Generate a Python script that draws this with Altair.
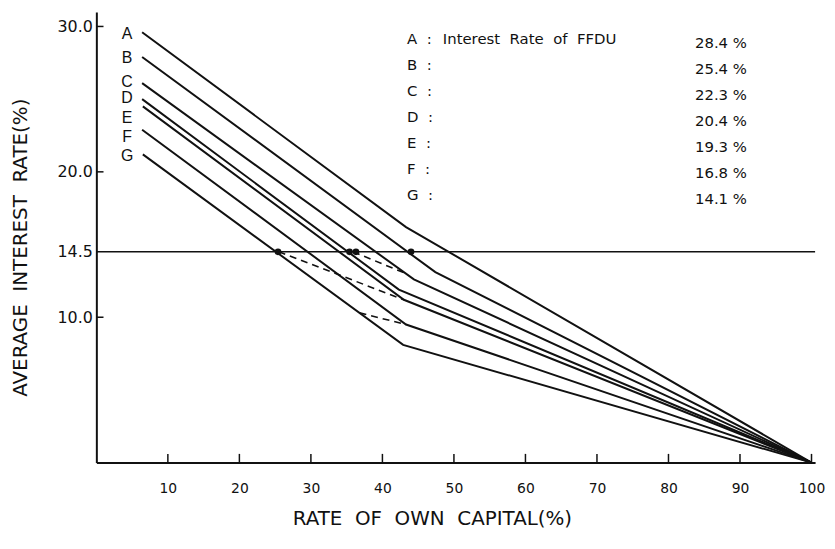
import altair as alt
import pandas as pd

# ---- data ----
series = ["A", "B", "C", "D", "E", "F", "G"]
ffdu_rate = ["28.4 %", "25.4 %", "22.3 %", "20.4 %", "19.3 %", "16.8 %", "14.1 %"]
descriptions = ["Interest Rate of FFDU", "", "", "", "", "", ""]

start_x = [6.4, 6.4, 6.4, 6.4, 6.5, 6.4, 6.5]
start_y = [29.6, 27.9, 26.1, 25.0, 24.5, 22.9, 21.2]
kink_x = [43.3, 47.4, 44.4, 42.3, 43.0, 43.3, 42.9]
kink_y = [16.2, 13.1, 12.6, 11.9, 11.2, 9.5, 8.1]
end_x = [100, 100, 100, 100, 100, 100, 100]
end_y = [0, 0, 0, 0, 0, 0, 0]

reference_rate = [14.5]
dot_x = [25.4, 35.4, 36.3, 44.0]
dot_y = [14.5, 14.5, 14.5, 14.5]

dash_id = ["d1", "d1", "d1", "d2", "d2", "d3", "d3"]
dash_x = [25.5, 34.0, 43.0, 35.9, 43.3, 36.8, 43.3]
dash_y = [14.5, 12.9, 11.2, 14.5, 13.0, 10.3, 9.5]

x_tick_values = [10, 20, 30, 40, 50, 60, 70, 80, 90, 100]
y_tick_values = [10.0, 14.5, 20.0, 30.0]
y_inner_ticks = [10.0, 20.0, 30.0]

# label layout nudges (data units) for the A..G letters at line starts
label_nudge = [-0.1, -0.1, 0.1, 0.1, -0.8, -0.5, -0.1]

NB = "\u00a0"


def spaced(text, n=2):
    return (NB * (n - 1) + " ").join(text.split(" "))


# ---- tables built from the arrays ----
rows = []
for i, s in enumerate(series):
    rows.append({"s": s, "o": 0, "x": start_x[i], "y": start_y[i]})
    rows.append({"s": s, "o": 1, "x": kink_x[i], "y": kink_y[i]})
    rows.append({"s": s, "o": 2, "x": end_x[i], "y": end_y[i]})
lines_df = pd.DataFrame(rows)

dash_df = pd.DataFrame({"id": dash_id, "x": dash_x, "y": dash_y})
dash_df["o"] = range(len(dash_df))
dots_df = pd.DataFrame({"x": dot_x, "y": dot_y})
ref_df = pd.DataFrame({"y": reference_rate})
xt_df = pd.DataFrame({"t": x_tick_values})
yt_df = pd.DataFrame({"t": y_inner_ticks})
lab_df = pd.DataFrame({"s": series, "y": [a + b for a, b in zip(start_y, label_nudge)]})
leg_df = pd.DataFrame({"s": [s + NB + " :" for s in series],
                       "d": [spaced(d) for d in descriptions],
                       "v": ffdu_rate, "row": list(range(len(series)))})

FONT = "DejaVu Sans"
xs = alt.Scale(domain=[0, 100.5], nice=False, zero=False)
ys = alt.Scale(domain=[0, 31], nice=False, zero=False)

X = alt.X("x:Q", scale=xs, axis=alt.Axis(
    values=x_tick_values, format="d", title=spaced("RATE OF OWN CAPITAL(%)"),
    labelFont=FONT, labelFontSize=14, labelPadding=19, labelFlush=False, labelOverlap=False,
    ticks=False, grid=False, domainColor="#111", domainWidth=2, labelColor="#111",
    titleFont=FONT, titleFontSize=20, titleFontWeight="normal", titleColor="#111",
    titleX=338, titleY=56, titleAlign="center", titleBaseline="middle"))
Y = alt.Y("y:Q", scale=ys, axis=alt.Axis(
    values=y_tick_values, format=".1f", title=spaced("AVERAGE INTEREST RATE(%)"),
    labelFont=FONT, labelFontSize=16, labelPadding=4, labelFlush=False, labelOverlap=False,
    ticks=False, grid=False, domainColor="#111", domainWidth=2, labelColor="#111",
    titleFont=FONT, titleFontSize=20, titleFontWeight="normal", titleColor="#111",
    titleX=-76, titleY=237, titleAngle=270, titleAlign="center", titleBaseline="middle"))

lines = alt.Chart(lines_df).mark_line(color="#111", strokeWidth=2).encode(
    x=X, y=Y, detail="s:N", order="o:Q")

ref = alt.Chart(ref_df).mark_rule(color="#111", strokeWidth=1.5).encode(
    y=alt.Y("y:Q", scale=ys))

dashes = alt.Chart(dash_df).mark_line(color="#111", strokeWidth=1.6, strokeDash=[7, 5]).encode(
    x=alt.X("x:Q", scale=xs), y=alt.Y("y:Q", scale=ys), detail="id:N", order="o:Q")

dots = alt.Chart(dots_df).mark_circle(color="#111", size=45, opacity=1).encode(
    x=alt.X("x:Q", scale=xs), y=alt.Y("y:Q", scale=ys))

xticks = alt.Chart(xt_df).mark_rule(color="#111", strokeWidth=1.5).encode(
    x=alt.X("t:Q", scale=xs), y=alt.datum(0, scale=ys), y2=alt.datum(0.6))

yticks = alt.Chart(yt_df).mark_rule(color="#111", strokeWidth=1.5).encode(
    y=alt.Y("t:Q", scale=ys), x=alt.datum(0, scale=xs), x2=alt.datum(1.0))

labels = alt.Chart(lab_df).mark_text(font="Liberation Sans", fontSize=16, color="#111",
                                     align="center", baseline="middle").encode(
    x=alt.datum(4.3, scale=xs), y=alt.Y("y:Q", scale=ys), text="s:N")

leg_base = alt.Chart(leg_df).transform_calculate(
    py="27 + 26.3 * datum.row", pv="31 + 26.2 * datum.row")
leg_letters = leg_base.mark_text(font=FONT, fontSize=15, color="#111", align="left",
                                 baseline="middle").encode(
    x=alt.value(313), y=alt.Y("py:Q", scale=None), text="s:N")
leg_desc = leg_base.mark_text(font=FONT, fontSize=15, color="#111", align="left",
                              baseline="middle").encode(
    x=alt.value(349), y=alt.Y("py:Q", scale=None), text="d:N")
leg_vals = leg_base.mark_text(font=FONT, fontSize=15, color="#111", align="left",
                              baseline="middle").encode(
    x=alt.value(603), y=alt.Y("pv:Q", scale=None), text="v:N")

chart = alt.layer(lines, ref, dashes, dots, xticks, yticks, labels,
                  leg_letters, leg_desc, leg_vals).properties(
    width=724, height=454,
    autosize=alt.AutoSizeParams(type="none"),
    padding={"left": 89, "top": 2, "right": 12, "bottom": 75},
    background="white",
).configure_view(strokeWidth=0)

chart.save("out.html", embed_options={"renderer": "svg", "actions": False})
